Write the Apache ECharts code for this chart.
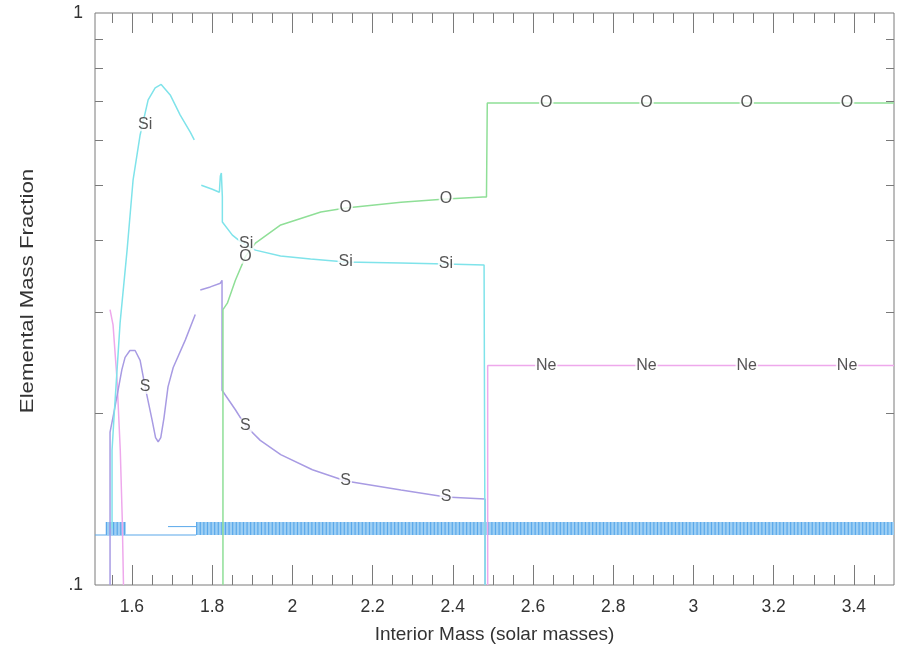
<!DOCTYPE html>
<html>
<head>
<meta charset="utf-8">
<title>Elemental Mass Fraction vs Interior Mass</title>
<script src="https://cdn.jsdelivr.net/npm/echarts@6/dist/echarts.min.js"></script>
<style>
  html, body { margin: 0; padding: 0; background: #fff; }
  #chart { width: 903px; height: 647px; }
</style>
</head>
<body>
<div id="chart"></div>
<script>
// Axis ranges and tick positions
const massMin = 1.508;
const massMax = 3.5;
const massMajorTicks = [1.6, 1.8, 2, 2.2, 2.4, 2.6, 2.8, 3, 3.2, 3.4];
const massMinorTicks = [1.55, 1.65, 1.7, 1.75, 1.85, 1.9, 1.95, 2.05, 2.1, 2.15, 2.25, 2.3, 2.35,
  2.45, 2.5, 2.55, 2.65, 2.7, 2.75, 2.85, 2.9, 2.95, 3.05, 3.1, 3.15, 3.25, 3.3, 3.35, 3.45];
const fracLabels = [0.1, 1];
const fracTicks = [0.2, 0.3, 0.4, 0.5, 0.6, 0.7, 0.8, 0.9];

// Oxygen profile [interior mass, mass fraction]
const oxygen = [
  [1.827, 0.1], [1.827, 0.303], [1.838, 0.311], [1.858, 0.341], [1.883, 0.375],
  [1.908, 0.396], [1.971, 0.426], [2.071, 0.449], [2.133, 0.456], [2.271, 0.467],
  [2.383, 0.473], [2.475, 0.477], [2.484, 0.477], [2.486, 0.696], [3.5, 0.696]
];

// Silicon profile, inner shell and outer shell
const siliconInner = [
  [1.5505, 0.1255], [1.5505, 0.172], [1.5555, 0.197], [1.5705, 0.287], [1.588, 0.385],
  [1.603, 0.511], [1.6205, 0.612], [1.6405, 0.705], [1.658, 0.74], [1.673, 0.75],
  [1.6955, 0.719], [1.7205, 0.663], [1.7455, 0.619], [1.7555, 0.6]
];
const siliconOuter = [
  [1.773, 0.5], [1.8005, 0.492], [1.818, 0.486], [1.8205, 0.519], [1.823, 0.525],
  [1.8255, 0.477], [1.8255, 0.431], [1.8505, 0.409], [1.8755, 0.396], [1.908, 0.385],
  [1.9705, 0.376], [2.0455, 0.3715], [2.133, 0.367], [2.2705, 0.3655], [2.383, 0.364],
  [2.478, 0.3626], [2.4805, 0.1]
];

// Sulfur profile, inner shell and outer shell
const sulfurInner = [
  [1.5455, 0.1], [1.5455, 0.185], [1.555, 0.2], [1.5655, 0.219], [1.575, 0.238],
  [1.583, 0.25], [1.595, 0.257], [1.608, 0.257], [1.6205, 0.247], [1.633, 0.222],
  [1.6505, 0.194], [1.659, 0.181], [1.6655, 0.178], [1.672, 0.181], [1.68, 0.196],
  [1.69, 0.222], [1.703, 0.24], [1.733, 0.268], [1.758, 0.297]
];
const sulfurOuter = [
  [1.7705, 0.328], [1.7955, 0.332], [1.8205, 0.337], [1.8247, 0.341], [1.8247, 0.219],
  [1.858, 0.2025], [1.883, 0.19], [1.92, 0.179], [1.971, 0.169], [2.05, 0.159],
  [2.133, 0.152], [2.271, 0.1466], [2.383, 0.1425], [2.4805, 0.1414], [2.4805, 0.1]
];

// Neon profile, inner edge and outer shell
const neonInner = [
  [1.5455, 0.303], [1.553, 0.285], [1.563, 0.228], [1.571, 0.172], [1.576, 0.13], [1.579, 0.1]
];
const neonOuter = [
  [2.487, 0.1], [2.487, 0.242], [3.5, 0.242]
];

// Trace-element band near the bottom
const traceBandInner = [[1.535, 0.1255], [1.585, 0.1255]];
const traceBandOuter = [[1.76, 0.1255], [3.5, 0.1255]];
const traceThin = [[1.508, 0.1223], [1.76, 0.1223]];
const traceThinUpper = [[1.69, 0.1265], [1.76, 0.1265]];

// Element tags along the curves
const oxygenTags = [[1.883, 0.375], [2.133, 0.456], [2.383, 0.473], [2.633, 0.696], [2.883, 0.696], [3.133, 0.696], [3.383, 0.696]];
const siliconTags = [[1.633, 0.639], [1.885, 0.396], [2.133, 0.367], [2.383, 0.364]];
const sulfurTags = [[1.633, 0.222], [1.883, 0.19], [2.133, 0.152], [2.383, 0.1425]];
const neonTags = [[2.633, 0.242], [2.883, 0.242], [3.133, 0.242], [3.383, 0.242]];

const yTitle = 'Elemental Mass Fraction';
const xTitle = 'Interior Mass (solar masses)';

const COLORS = {
  O: '#8fdf97',
  Si: '#7fe3ea',
  S: '#a89be3',
  Ne: '#eea8ec',
  bandFill: '#9dcff4',
  bandStripe: '#5aa8ea'
};

const FONT = '"Liberation Sans", Arial, Helvetica, sans-serif';
const AXIS_COLOR = '#7a7a7a';

function curve(name, data, color, width) {
  return {
    name: name, type: 'line', data: data, showSymbol: false, symbol: 'none',
    lineStyle: { color: color, width: width || 1.5 },
    xAxisIndex: 0, yAxisIndex: 0, z: 2, silent: true, animation: false
  };
}

function tags(name, data) {
  return {
    name: name, type: 'scatter', data: data, symbol: 'circle', symbolSize: 1,
    itemStyle: { color: 'rgba(255,255,255,0)' },
    label: {
      show: true, position: 'inside', formatter: name,
      color: '#2a2a2a', fontFamily: FONT, fontSize: 16,
      backgroundColor: '#fff', padding: [0, 1], lineHeight: 14
    },
    labelLayout: { hideOverlap: false },
    xAxisIndex: 0, yAxisIndex: 0, z: 5, silent: true, animation: false
  };
}

function massAxis(position, ticks, len, showLabels, nameShown) {
  return {
    type: 'value', position: position, min: massMin, max: massMax,
    name: nameShown ? xTitle : '',
    nameLocation: 'middle', nameGap: 40,
    nameTextStyle: { fontFamily: FONT, fontSize: 19, color: '#333' },
    axisLine: { show: false },
    splitLine: { show: false },
    axisTick: { show: true, inside: true, length: len, customValues: ticks,
      lineStyle: { color: AXIS_COLOR, width: 1 } },
    axisLabel: {
      show: showLabels, customValues: showLabels ? massMajorTicks : undefined,
      margin: 13, fontFamily: FONT, fontSize: 17.5, color: '#333',
      formatter: function (v) { return String(+(+v).toFixed(2)); }
    }
  };
}

function fracAxis(position, showLabels) {
  return {
    type: 'log', logBase: 10, position: position, min: 0.1, max: 1,
    axisLine: { show: false },
    splitLine: { show: false },
    minorTick: { show: false },
    axisTick: { show: true, inside: true, length: 8, customValues: fracTicks,
      lineStyle: { color: AXIS_COLOR, width: 1 } },
    axisLabel: {
      show: showLabels, customValues: fracLabels, margin: 12,
      fontFamily: FONT, fontSize: 17.5, color: '#333',
      formatter: function (v) { return (+v >= 1) ? '1' : '.1'; }
    }
  };
}

const chart = echarts.init(document.getElementById('chart'), null, { renderer: 'canvas' });

const stripes = { color: COLORS.bandStripe, width: 13, type: [1.2, 2.4], cap: 'butt' };

chart.setOption({
  backgroundColor: '#fff',
  animation: false,
  grid: {
    left: 95, right: 9, top: 13, bottom: 62,
    show: true, borderColor: AXIS_COLOR, borderWidth: 1, backgroundColor: 'transparent',
    outerBoundsMode: 'none', containLabel: false
  },
  // vertical axis title, drawn slightly elongated along its reading direction
  graphic: [{
    type: 'text', x: 28, y: 291, rotation: Math.PI / 2, scaleX: 1.2, silent: true,
    style: {
      text: yTitle, font: '18.5px ' + FONT, fill: '#333',
      align: 'center', verticalAlign: 'middle'
    }
  }],
  xAxis: [
    massAxis('bottom', massMajorTicks, 20, true, true),
    massAxis('bottom', massMinorTicks, 10, false, false),
    massAxis('top', massMajorTicks, 20, false, false),
    massAxis('top', massMinorTicks, 10, false, false)
  ],
  yAxis: [
    fracAxis('left', true),
    fracAxis('right', false)
  ],
  series: [
    curve('band-thin', traceThin, COLORS.bandStripe, 1.2),
    curve('band-thin-upper', traceThinUpper, COLORS.bandStripe, 1),
    curve('band-inner', traceBandInner, COLORS.bandFill, 13),
    curve('band-outer', traceBandOuter, COLORS.bandFill, 13),
    Object.assign(curve('band-inner-stripes', traceBandInner), { lineStyle: stripes }),
    Object.assign(curve('band-outer-stripes', traceBandOuter), { lineStyle: stripes }),
    curve('Ne-inner', neonInner, COLORS.Ne),
    curve('Ne-outer', neonOuter, COLORS.Ne),
    curve('S-inner', sulfurInner, COLORS.S),
    curve('S-outer', sulfurOuter, COLORS.S),
    curve('Si-inner', siliconInner, COLORS.Si),
    curve('Si-outer', siliconOuter, COLORS.Si),
    curve('O', oxygen, COLORS.O),
    tags('Si', siliconTags),
    tags('O', oxygenTags),
    tags('S', sulfurTags),
    tags('Ne', neonTags)
  ]
});
</script>
</body>
</html>
